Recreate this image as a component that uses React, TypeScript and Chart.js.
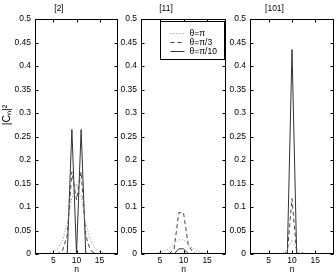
import React, { useEffect, useRef } from 'react';
import { Chart, registerables } from 'chart.js';

Chart.register(...registerables);

// ---- data ----
const N = [1, 2, 3, 4, 5, 6, 7, 8, 9, 10, 11, 12, 13, 14, 15, 16, 17, 18, 19];
const TITLES = ['[2]', '[11]', '[101]'];
const SERIES_LABELS = ['θ=π', 'θ=π/3', 'θ=π/10'];
const Y_TICKS = [0, 0.05, 0.1, 0.15, 0.2, 0.25, 0.3, 0.35, 0.4, 0.45, 0.5];
const X_TICKS = [5, 10, 15];
const Y_LABEL = '|Cₙ|²';
const X_LABEL = 'n';

// state [2]
const S2_PI = [0, 0, 0.0005, 0.002, 0.005, 0.012, 0.03, 0.065, 0.12, 0.15, 0.12, 0.065, 0.03, 0.012, 0.005, 0.002, 0.0005, 0, 0];
const S2_PI3 = [0, 0, 0, 0, 0, 0.001, 0.008, 0.04, 0.175, 0.115, 0.175, 0.04, 0.008, 0.001, 0, 0, 0, 0, 0];
const S2_PI10 = [0, 0, 0, 0, 0, 0, 0, 0.002, 0.265, 0, 0.265, 0.002, 0, 0, 0, 0, 0, 0, 0];
// state [11]
const S11_PI = [0, 0, 0, 0.001, 0.003, 0.006, 0.012, 0.02, 0.03, 0.03, 0.02, 0.012, 0.006, 0.003, 0.001, 0, 0, 0, 0];
const S11_PI3 = [0, 0, 0, 0, 0, 0, 0.001, 0.01, 0.088, 0.088, 0.02, 0.003, 0, 0, 0, 0, 0, 0, 0];
const S11_PI10 = [0, 0, 0, 0, 0, 0, 0, 0, 0.011, 0.011, 0.001, 0, 0, 0, 0, 0, 0, 0, 0];
// state [101]
const S101_PI = [0, 0, 0, 0, 0, 0, 0, 0.002, 0.01, 0.03, 0.01, 0.004, 0.001, 0, 0, 0, 0, 0, 0];
const S101_PI3 = [0, 0, 0, 0, 0, 0, 0, 0, 0.003, 0.118, 0.003, 0, 0, 0, 0, 0, 0, 0, 0];
const S101_PI10 = [0, 0, 0, 0, 0, 0, 0, 0, 0, 0.435, 0, 0, 0, 0, 0, 0, 0, 0, 0];

const PANEL_DATA = [
  [S2_PI, S2_PI3, S2_PI10],
  [S11_PI, S11_PI3, S11_PI10],
  [S101_PI, S101_PI3, S101_PI10],
];

// ---- layout / style ----
const W = 336;
const H = 276;
const Y_AXIS_W = 35;
const RIGHT_PAD = 2;
const PLOT_LEFTS = [35, 141, 250];
const PLOT_WIDTHS = [83, 85, 84];
const FONT = "'Liberation Sans Narrow', 'Liberation Sans', Arial, sans-serif";
const FS = 8.5;
const STYLES = [
  { color: '#888', dash: [1, 2] },
  { color: '#444', dash: [4, 3] },
  { color: '#333', dash: [] as number[] },
];

const matlabPlugin = {
  id: 'matlabBox',
  afterDraw(chart: any, _args: any, opts: any) {
    const { ctx, chartArea: a, scales } = chart;
    ctx.save();
    ctx.strokeStyle = '#000';
    ctx.lineWidth = 1;
    ctx.setLineDash([]);
    const L = Math.round(a.left) + 0.5;
    const R = Math.round(a.right) - 0.5;
    const T = Math.round(a.top) + 0.5;
    const B = Math.round(a.bottom) - 0.5;
    ctx.strokeRect(L, T, R - L, B - T);
    ctx.beginPath();
    Y_TICKS.forEach((v) => {
      const y = Math.round(scales.y.getPixelForValue(v)) + 0.5;
      ctx.moveTo(L, y); ctx.lineTo(L + 3, y);
      ctx.moveTo(R, y); ctx.lineTo(R - 3, y);
    });
    X_TICKS.forEach((v) => {
      const x = Math.round(scales.x.getPixelForValue(v)) + 0.5;
      ctx.moveTo(x, B); ctx.lineTo(x, B - 3);
      ctx.moveTo(x, T); ctx.lineTo(x, T + 3);
    });
    ctx.stroke();

    if (opts && opts.legend) {
      const bw = 64, bh = 38;
      const bx = Math.round(a.right) - 2 - bw + 0.5;
      const by = Math.round(a.top) + 2 + 0.5;
      ctx.fillStyle = '#fff';
      ctx.fillRect(bx, by, bw, bh);
      ctx.strokeRect(bx, by, bw, bh);
      ctx.font = `${FS}px ${FONT}`;
      ctx.textBaseline = 'middle';
      ctx.textAlign = 'left';
      chart.data.datasets.forEach((ds: any, i: number) => {
        const y = by + 12 + i * 9;
        ctx.beginPath();
        ctx.strokeStyle = ds.borderColor;
        ctx.setLineDash(ds.borderDash || []);
        ctx.moveTo(bx + 10, y);
        ctx.lineTo(bx + 24, y);
        ctx.stroke();
        ctx.setLineDash([]);
        ctx.fillStyle = '#000';
        ctx.fillText(ds.label, bx + 29, y);
      });
    }
    if (opts && opts.yLabel) {
      ctx.translate(7, 115);
      ctx.rotate(-Math.PI / 2);
      ctx.font = `10.5px ${FONT}`;
      ctx.fillStyle = '#000';
      ctx.textAlign = 'center';
      ctx.textBaseline = 'middle';
      ctx.fillText(opts.yLabel, 0, 0);
    }
    ctx.restore();
  },
};

function makeChart(canvas: HTMLCanvasElement, idx: number) {
  const series = PANEL_DATA[idx];
  return new Chart(canvas, {
    type: 'line',
    data: {
      datasets: series.map((arr, i) => ({
        label: SERIES_LABELS[i],
        data: N.map((x, j) => ({ x, y: arr[j] })),
        borderColor: STYLES[i].color,
        borderDash: STYLES[i].dash,
        borderWidth: 1,
        pointRadius: 0,
        tension: 0,
        fill: false,
      })),
    },
    options: {
      animation: false,
      responsive: false,
      devicePixelRatio: 1,
      layout: { padding: { left: 0, right: RIGHT_PAD, top: 0, bottom: 0 } },
      plugins: {
        legend: { display: false },
        tooltip: { enabled: false },
        title: {
          display: true,
          text: TITLES[idx],
          color: '#000',
          font: { family: FONT, size: FS, weight: 'normal' },
          padding: { top: 3.8, bottom: 5 },
        },
        matlabBox: { legend: idx === 1, yLabel: idx === 0 ? Y_LABEL : null },
      } as any,
      scales: {
        x: {
          type: 'linear',
          min: 1,
          max: 19,
          grid: { display: false, drawTicks: false },
          border: { display: false },
          afterBuildTicks: (s: any) => { s.ticks = X_TICKS.map((v) => ({ value: v })); },
          afterFit: (s: any) => { s.height = 22; },
          ticks: { color: '#000', padding: 2, autoSkip: false, maxRotation: 0, font: { family: FONT, size: FS } },
          title: { display: true, text: X_LABEL, color: '#000', padding: { top: 0, bottom: 1 }, font: { family: FONT, size: FS } },
        },
        y: {
          type: 'linear',
          min: 0,
          max: 0.5,
          grid: { display: false, drawTicks: false },
          border: { display: false },
          afterBuildTicks: (s: any) => { s.ticks = Y_TICKS.map((v) => ({ value: v })); },
          afterFit: (s: any) => { s.width = Y_AXIS_W; },
          ticks: {
            color: '#000',
            padding: 4,
            autoSkip: false,
            font: { family: FONT, size: FS },
            callback: (v: any) => String(parseFloat(Number(v).toFixed(2))),
          },
        },
      },
    },
    plugins: [matlabPlugin],
  } as any);
}

export default function App() {
  const r0 = useRef<HTMLCanvasElement>(null);
  const r1 = useRef<HTMLCanvasElement>(null);
  const r2 = useRef<HTMLCanvasElement>(null);
  useEffect(() => {
    const refs = [r0, r1, r2];
    const charts = refs.map((r, i) => makeChart(r.current as HTMLCanvasElement, i));
    return () => charts.forEach((c) => c.destroy());
  }, []);
  const refs = [r0, r1, r2];
  return (
    <div style={{ position: 'absolute', left: 0, top: 0, width: W, height: H, background: '#fff', overflow: 'hidden' }}>
      {refs.map((r, i) => {
        const cw = Y_AXIS_W + PLOT_WIDTHS[i] + RIGHT_PAD;
        return (
          <canvas
            key={i}
            ref={r}
            width={cw}
            height={H}
            style={{ position: 'absolute', left: PLOT_LEFTS[i] - Y_AXIS_W, top: 0, width: cw, height: H }}
          />
        );
      })}
    </div>
  );
}
